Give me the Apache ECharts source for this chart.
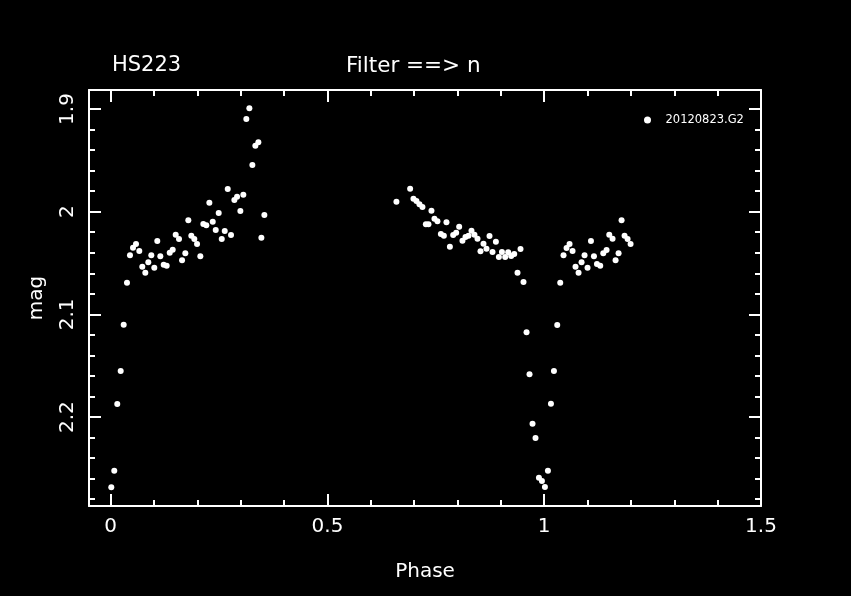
<!DOCTYPE html>
<html>
<head>
<meta charset="utf-8">
<script src="https://cdn.jsdelivr.net/npm/echarts@6/dist/echarts.min.js"></script>
<style>
html,body{margin:0;padding:0;background:#000;}
#chart{width:851px;height:596px;}
</style>
</head>
<body>
<div id="chart"></div>
<script>
// ---- data ----
const seriesName = '20120823.G2';
const starName = 'HS223';
const filterText = 'Filter ==> n';

const phase = [
  0.0014,0.0083,0.0152,0.0231,0.0300,0.0376,0.0445,0.0515,0.0584,0.0660,
  0.0729,0.0799,0.0868,0.0937,0.1006,0.1075,0.1145,0.1223,0.1292,0.1362,
  0.1431,0.1500,0.1576,0.1646,0.1722,0.1791,0.1860,0.1929,0.1992,0.2068,
  0.2137,0.2206,0.2276,0.2354,0.2423,0.2492,0.2562,0.2631,0.2700,0.2776,
  0.2853,0.2915,0.2991,0.3060,0.3129,0.3199,0.3268,0.3337,0.3406,0.3476,
  0.3545,
  0.6591,0.6907,0.6984,0.7053,0.7122,0.7191,0.7270,0.7330,0.7399,0.7468,
  0.7537,0.7616,0.7685,0.7745,0.7824,0.7900,0.7969,0.8038,0.8114,0.8184,
  0.8253,0.8322,0.8391,0.8461,0.8530,0.8599,0.8668,0.8738,0.8807,0.8885,
  0.8954,0.9024,0.9100,0.9169,0.9238,0.9308,0.9384,0.9453,0.9522,0.9592,
  0.9661,0.9730,0.9799,0.9878,0.9947,
  1.0016,1.0085,1.0155,1.0224,1.0300,1.0369,1.0445,1.0515,1.0584,1.0653,
  1.0722,1.0792,1.0861,1.0930,1.0999,1.1078,1.1147,1.1216,1.1292,1.1362,
  1.1438,1.1500,1.1576,1.1646,1.1715,1.1784,1.1853,1.1923,1.1992
];
const mag = [
  2.2684,2.2522,2.1872,2.1551,2.1100,2.0691,2.0425,2.0351,2.0315,2.0383,
  2.0536,2.0594,2.0493,2.0425,2.0545,2.0285,2.0434,2.0516,2.0526,2.0399,
  2.0370,2.0224,2.0266,2.0473,2.0405,2.0084,2.0234,2.0266,2.0315,2.0434,
  2.0120,2.0132,1.9912,2.0097,2.0178,2.0013,2.0266,2.0188,1.9779,2.0227,
  1.9886,1.9854,1.9993,1.9834,1.9097,1.8993,1.9545,1.9357,1.9324,2.0253,
  2.0032,
  1.9903,1.9776,1.9873,1.9896,1.9928,1.9954,2.0123,2.0123,1.9990,2.0068,
  2.0093,2.0217,2.0234,2.0103,2.0341,2.0227,2.0204,2.0146,2.0282,2.0246,
  2.0234,2.0185,2.0224,2.0263,2.0386,2.0312,2.0360,2.0237,2.0392,2.0292,
  2.0441,2.0392,2.0441,2.0395,2.0431,2.0412,2.0594,2.0363,2.0685,2.1174,
  2.1583,2.2064,2.2203,2.2590,2.2622,
  2.2681,2.2522,2.1870,2.1551,2.1104,2.0691,2.0425,2.0353,2.0315,2.0383,
  2.0536,2.0594,2.0493,2.0425,2.0545,2.0285,2.0434,2.0509,2.0526,2.0405,
  2.0373,2.0224,2.0263,2.0473,2.0405,2.0084,2.0234,2.0266,2.0315
];

const xMajorTicks = [0, 0.5, 1, 1.5];
const xMinorTicks = [0.1,0.2,0.3,0.4,0.6,0.7,0.8,0.9,1.1,1.2,1.3,1.4];
const yMajorTicks = [1.9, 2, 2.1, 2.2];
const yMinorTicks = [1.92,1.94,1.96,1.98,2.02,2.04,2.06,2.08,2.12,2.14,2.16,2.18,2.22,2.24,2.26,2.28];
const xRange = [-0.05, 1.5];
const yRange = [1.8815, 2.2866];

// ---- chart ----
const FONT = 'DejaVu Sans';
const WHITE = '#ffffff';
const points = phase.map((p, i) => [p, mag[i]]);

function xAx(position, ticks, len, showLine, showLabel) {
  return {
    type: 'value', position: position, min: xRange[0], max: xRange[1],
    splitLine: {show: false},
    axisLine: {show: showLine, onZero: false, lineStyle: {color: WHITE, width: 2}},
    axisTick: {show: true, inside: true, length: len, customValues: ticks, lineStyle: {color: WHITE, width: 2}},
    axisLabel: showLabel ? {show: true, customValues: ticks, color: WHITE, fontSize: 20, fontFamily: FONT, margin: 11} : {show: false}
  };
}
function yAx(position, ticks, len, showLine, showLabel) {
  return {
    type: 'value', position: position, min: yRange[0], max: yRange[1], inverse: true,
    splitLine: {show: false},
    axisLine: {show: showLine, onZero: false, lineStyle: {color: WHITE, width: 2}},
    axisTick: {show: true, inside: true, length: len, customValues: ticks, lineStyle: {color: WHITE, width: 2}},
    axisLabel: showLabel ? {show: true, customValues: ticks, rotate: 90, color: WHITE, fontSize: 20, fontFamily: FONT, margin: 11} : {show: false}
  };
}

const xMain = xAx('bottom', xMajorTicks, 12, true, true);
xMain.name = 'Phase';
xMain.nameLocation = 'middle';
xMain.nameGap = 56;
xMain.nameTextStyle = {color: WHITE, fontSize: 20, fontFamily: FONT};

const yMain = yAx('left', yMajorTicks, 12, true, true);
yMain.name = 'mag';
yMain.nameLocation = 'middle';
yMain.nameRotate = 90;
yMain.nameGap = 42;
yMain.nameTextStyle = {color: WHITE, fontSize: 20, fontFamily: FONT};

const option = {
  backgroundColor: '#000000',
  animation: false,
  grid: {left: 89, right: 90, top: 90, bottom: 90, containLabel: false},
  xAxis: [
    xMain,
    xAx('bottom', xMinorTicks, 6, false, false),
    xAx('top', xMajorTicks, 12, true, false),
    xAx('top', xMinorTicks, 6, false, false)
  ],
  yAxis: [
    yMain,
    yAx('left', yMinorTicks, 6, false, false),
    yAx('right', yMajorTicks, 12, true, false),
    yAx('right', yMinorTicks, 6, false, false)
  ],
  legend: {
    data: [seriesName], left: 639, top: 109,
    icon: 'circle', itemWidth: 26, itemHeight: 7,
    textStyle: {color: WHITE, fontSize: 11.5, fontFamily: FONT}
  },
  graphic: [
    {type: 'text', left: 112, top: 55, style: {text: starName, fill: WHITE, font: '21px "DejaVu Sans"'}},
    {type: 'text', left: 346, top: 55, style: {text: filterText, fill: WHITE, font: '21.5px "DejaVu Sans"'}}
  ],
  series: [{
    name: seriesName, type: 'scatter', xAxisIndex: 0, yAxisIndex: 0,
    symbol: 'circle', symbolSize: 6,
    itemStyle: {color: WHITE, opacity: 1},
    data: points
  }]
};

const chart = echarts.init(document.getElementById('chart'), null, {renderer: 'canvas'});
chart.setOption(option);
</script>
</body>
</html>
